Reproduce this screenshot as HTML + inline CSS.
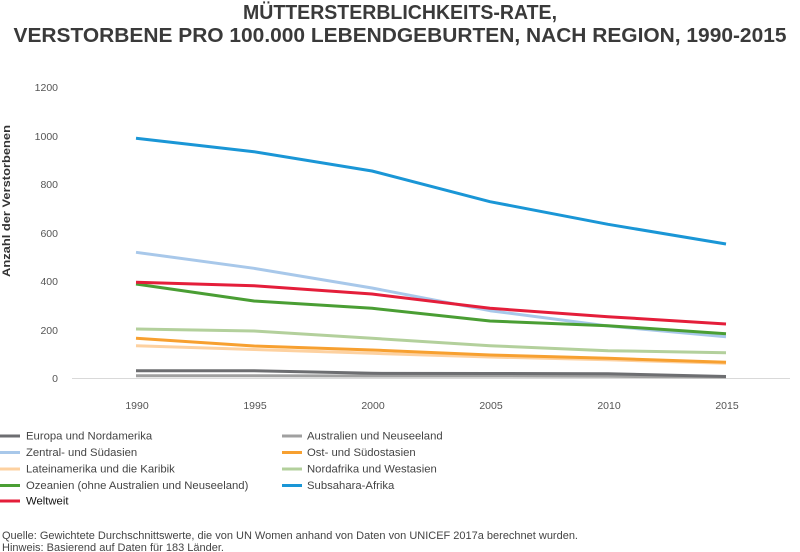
<!DOCTYPE html>
<html><head><meta charset="utf-8"><style>
html,body{margin:0;padding:0;background:#fff;}
svg{display:block;}
text{font-family:"Liberation Sans","DejaVu Sans",sans-serif;}
</style></head><body>
<svg width="800" height="552" viewBox="0 0 800 552" xmlns="http://www.w3.org/2000/svg">
<rect width="800" height="552" fill="#fff"/>
<text x="400" y="19" text-anchor="middle" font-size="20.5" font-weight="bold" fill="#3a3a3a" textLength="314" lengthAdjust="spacingAndGlyphs">MÜTTERSTERBLICHKEITS-RATE,</text>
<text x="400" y="42" text-anchor="middle" font-size="20.5" font-weight="bold" fill="#3a3a3a" textLength="773" lengthAdjust="spacingAndGlyphs">VERSTORBENE PRO 100.000 LEBENDGEBURTEN, NACH REGION, 1990-2015</text>

<text transform="translate(10,201) rotate(-90)" text-anchor="middle" font-size="11" font-weight="bold" fill="#333" textLength="152" lengthAdjust="spacingAndGlyphs">Anzahl der Verstorbenen</text>

<g font-size="10.5" fill="#555" text-anchor="end">
<text x="58" y="382">0</text>
<text x="58" y="334">200</text>
<text x="58" y="285">400</text>
<text x="58" y="237">600</text>
<text x="58" y="188">800</text>
<text x="58" y="140">1000</text>
<text x="58" y="91">1200</text>
</g>
<g font-size="10.5" fill="#555" text-anchor="middle">
<text x="137" y="409">1990</text>
<text x="255" y="409">1995</text>
<text x="373" y="409">2000</text>
<text x="491" y="409">2005</text>
<text x="609" y="409">2010</text>
<text x="727" y="409">2015</text>
</g>

<line x1="72" y1="378.5" x2="790" y2="378.5" stroke="#d9d9d9" stroke-width="1"/>

<g fill="none" stroke-width="3" stroke-linejoin="round">
<polyline stroke="#a0a0a0" points="136,375.7 254,375.7 372,376 490,376 608,376.3 726,377"/>
<polyline stroke="#6d6e71" points="136,370.7 254,370.7 372,373.3 490,373.5 608,373.7 726,376.5"/>
<polyline stroke="#fdd1a0" points="136,345.7 254,349.5 372,353.3 490,357 608,359.8 726,363.2"/>
<polyline stroke="#f7a030" points="136,338.3 254,346 372,350 490,355 608,358.3 726,362.3"/>
<polyline stroke="#b3d09c" points="136,329 254,331 372,338.3 490,345.7 608,350.7 726,352.7"/>
<polyline stroke="#a8c8ea" points="136,252.3 254,268.3 372,288 490,310.7 608,326 726,336.7"/>
<polyline stroke="#4a9e34" points="136,284 254,301 372,308.3 490,321 608,325.7 726,333.7"/>
<polyline stroke="#e41e3a" points="136,282.3 254,285.7 372,294 490,308.3 608,316.7 726,324"/>
<polyline stroke="#1a96d6" points="136,138.3 254,151.7 372,171 490,201.7 608,224.3 726,244"/>
</g>

<g font-size="11.3" fill="#444">
<rect x="0" y="434.5" width="20" height="3" fill="#6d6e71"/>
<text x="26" y="439.5">Europa und Nordamerika</text>
<rect x="0" y="451" width="20" height="3" fill="#a8c8ea"/>
<text x="26" y="456">Zentral- und Südasien</text>
<rect x="0" y="467.5" width="20" height="3" fill="#fdd1a0"/>
<text x="26" y="472.5">Lateinamerika und die Karibik</text>
<rect x="0" y="484" width="20" height="3" fill="#4a9e34"/>
<text x="26" y="489">Ozeanien (ohne Australien und Neuseeland)</text>
<rect x="0" y="499.5" width="20" height="3" fill="#e41e3a"/>
<text x="26" y="504.5" fill="#111">Weltweit</text>

<rect x="282" y="434.5" width="20" height="3" fill="#a0a0a0"/>
<text x="307" y="439.5">Australien und Neuseeland</text>
<rect x="282" y="451" width="20" height="3" fill="#f7a030"/>
<text x="307" y="456">Ost- und Südostasien</text>
<rect x="282" y="467.5" width="20" height="3" fill="#b3d09c"/>
<text x="307" y="472.5">Nordafrika und Westasien</text>
<rect x="282" y="484" width="20" height="3" fill="#1a96d6"/>
<text x="307" y="489">Subsahara-Afrika</text>
</g>

<g font-size="11" fill="#444">
<text x="2" y="539" textLength="576" lengthAdjust="spacingAndGlyphs">Quelle: Gewichtete Durchschnittswerte, die von UN Women anhand von Daten von UNICEF 2017a berechnet wurden.</text>
<text x="2" y="551">Hinweis: Basierend auf Daten für 183 Länder.</text>
</g>
</svg>
</body></html>
